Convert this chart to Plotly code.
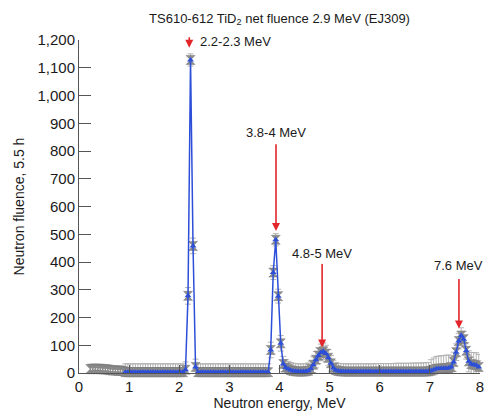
import plotly.graph_objects as go

energy = [0.225, 0.275, 0.325, 0.375, 0.425, 0.475, 0.525, 0.575, 0.625, 0.675,
          0.725, 0.775, 0.825, 0.875, 0.925, 0.975, 1.025, 1.075, 1.125, 1.175,
          1.225, 1.275, 1.325, 1.375, 1.425, 1.475, 1.525, 1.575, 1.625, 1.675,
          1.725, 1.775, 1.825, 1.875, 1.925, 1.975, 2.025, 2.075, 2.125, 2.175,
          2.225, 2.275, 2.325, 2.375, 2.425, 2.475, 2.525, 2.575, 2.625, 2.675,
          2.725, 2.775, 2.825, 2.875, 2.925, 2.975, 3.025, 3.075, 3.125, 3.175,
          3.225, 3.275, 3.325, 3.375, 3.425, 3.475, 3.525, 3.575, 3.625, 3.675,
          3.725, 3.775, 3.825, 3.875, 3.925, 3.975, 4.025, 4.075, 4.125, 4.175,
          4.225, 4.275, 4.325, 4.375, 4.425, 4.475, 4.525, 4.575, 4.625, 4.675,
          4.725, 4.775, 4.825, 4.875, 4.925, 4.975, 5.025, 5.075, 5.125, 5.175,
          5.225, 5.275, 5.325, 5.375, 5.425, 5.475, 5.525, 5.575, 5.625, 5.675,
          5.725, 5.775, 5.825, 5.875, 5.925, 5.975, 6.025, 6.075, 6.125, 6.175,
          6.225, 6.275, 6.325, 6.375, 6.425, 6.475, 6.525, 6.575, 6.625, 6.675,
          6.725, 6.775, 6.825, 6.875, 6.925, 6.975, 7.025, 7.075, 7.125, 7.175,
          7.225, 7.275, 7.325, 7.375, 7.425, 7.475, 7.525, 7.575, 7.625, 7.675,
          7.725, 7.775, 7.825, 7.875, 7.925, 7.975]

fluence = [14, 14, 15, 14, 14, 13, 13, 12, 10, 9,
           9, 8, 8, 7, 3, 3, 3, 3, 3, 3,
           3, 3, 3, 3, 3, 3, 3, 3, 3, 3,
           3, 3, 3, 3, 3, 3, 3, 3, 12, 278,
           1128, 458, 22, 3, 3, 3, 3, 3, 3, 3,
           3, 3, 3, 3, 3, 3, 3, 3, 3, 3,
           3, 3, 3, 3, 3, 3, 3, 3, 3, 3,
           3, 3, 83, 362, 480, 277, 107, 32, 20, 14,
           10, 7, 6, 5, 5, 5, 6, 8, 15, 30,
           48, 63, 74, 78, 70, 55, 35, 18, 10, 7,
           6, 5, 5, 5, 5, 5, 5, 5, 5, 5,
           5, 5, 5, 5, 5, 5, 5, 5, 5, 5,
           5, 5, 5, 5, 5, 5, 5, 5, 5, 5,
           5, 5, 5, 5, 5, 6, 8, 12, 15, 16,
           16, 17, 17, 18, 22, 40, 75, 115, 135, 122,
           80, 42, 32, 30, 28, 22]

fluence_err = [18, 18, 18, 18, 18, 18, 18, 18, 18, 18,
               18, 18, 18, 18, 30, 30, 30, 30, 30, 30,
               30, 30, 30, 30, 30, 30, 30, 30, 30, 30,
               30, 30, 30, 30, 30, 30, 30, 30, 28, 30,
               22, 28, 28, 30, 30, 30, 30, 30, 30, 30,
               30, 30, 30, 30, 30, 30, 30, 30, 30, 30,
               30, 30, 30, 30, 30, 30, 30, 30, 30, 30,
               30, 30, 28, 25, 22, 25, 28, 28, 28, 28,
               28, 28, 28, 28, 28, 28, 28, 28, 28, 28,
               29, 29, 30, 30, 30, 29, 28, 28, 28, 28,
               28, 28, 28, 28, 28, 28, 28, 28, 28, 28,
               28, 28, 28, 28, 29, 29, 29, 29, 29, 29,
               29, 29, 30, 30, 30, 30, 30, 30, 30, 31,
               31, 31, 31, 32, 32, 32, 40, 42, 44, 45,
               46, 46, 47, 47, 40, 35, 30, 28, 28, 28,
               30, 38, 42, 44, 45, 45]

x_ticks = [0, 1, 2, 3, 4, 5, 6, 7, 8]
y_ticks = [0, 100, 200, 300, 400, 500, 600, 700, 800, 900, 1000, 1100, 1200]

peak_labels = ["2.2-2.3 MeV", "3.8-4 MeV", "4.8-5 MeV", "7.6 MeV"]

FONT = "Liberation Sans, Arial, sans-serif"
BLUE = "#2d4fd8"
RED = "#e3262b"

# the page body has an 8 px margin, so the figure is sized to fit the window
W, H = 488, 408

fig = go.Figure()

fig.add_trace(go.Scatter(
    x=energy, y=fluence, mode="markers",
    marker=dict(symbol="hourglass", size=9, color="#8e8e8e",
                line=dict(color="#777777", width=0.5)),
    error_y=dict(type="data", array=fluence_err, visible=True,
                 color="#b4b4b4", thickness=1, width=3),
    cliponaxis=False, showlegend=False, hoverinfo="x+y"))

fig.add_trace(go.Scatter(
    x=energy[14:], y=fluence[14:], mode="lines+markers",
    line=dict(color=BLUE, width=1.5),
    marker=dict(symbol="triangle-up", size=6, color=BLUE),
    cliponaxis=False, showlegend=False, hoverinfo="x+y"))

# arrows (tip, tail) in data coordinates
arrows = [(2.2, 1172, 1215), (3.93, 512, 830), (4.85, 92, 398), (7.58, 160, 344)]
for xa, tip, tail in arrows:
    fig.add_annotation(x=xa, y=tip, ax=xa, ay=tail, xref="x", yref="y",
                       axref="x", ayref="y", text="", showarrow=True,
                       arrowhead=2, arrowsize=1.0, arrowwidth=1.6,
                       arrowcolor=RED)

label_pos = [(2.38, 1193, "left"), (3.93, 868, "center"),
             (4.85, 432, "center"), (7.58, 389, "center")]
for (xl, yl, anchor), txt in zip(label_pos, peak_labels):
    fig.add_annotation(x=xl, y=yl, xref="x", yref="y", text=txt,
                       showarrow=False, xanchor=anchor, yanchor="middle",
                       font=dict(family=FONT, size=13, color="#1a1a1a"))

fig.update_layout(
    width=W, height=H,
    margin=dict(l=71, r=16, t=32, b=43),
    paper_bgcolor="white", plot_bgcolor="white",
    font=dict(family=FONT, color="#1a1a1a"),
    title=dict(text="TS610-612 TiD<sub>2</sub> net fluence 2.9 MeV (EJ309)",
               x=0.5, xref="paper", xanchor="center",
               y=1 - 10 / H, yref="container", yanchor="middle",
               font=dict(family=FONT, size=13, color="#1a1a1a")),
    xaxis=dict(range=[0, 8], tickvals=x_ticks, ticks="inside", ticklen=8,
               tickcolor="#555555", showline=True, linecolor="#555555",
               linewidth=1, showgrid=False, zeroline=False, automargin=False,
               tickfont=dict(family=FONT, size=15),
               title=dict(text="Neutron energy, MeV", standoff=4,
                          font=dict(family=FONT, size=14))),
    yaxis=dict(range=[0, 1200], tickvals=y_ticks, tickformat=",d",
               ticks="inside", ticklen=12, tickcolor="#555555",
               showline=True, linecolor="#555555", linewidth=1,
               showgrid=False, zeroline=False, automargin=False,
               tickfont=dict(family=FONT, size=15),
               title=dict(text="Neutron fluence, 5.5 h", standoff=9,
                          font=dict(family=FONT, size=14))),
)

fig.write_html("out.html")
